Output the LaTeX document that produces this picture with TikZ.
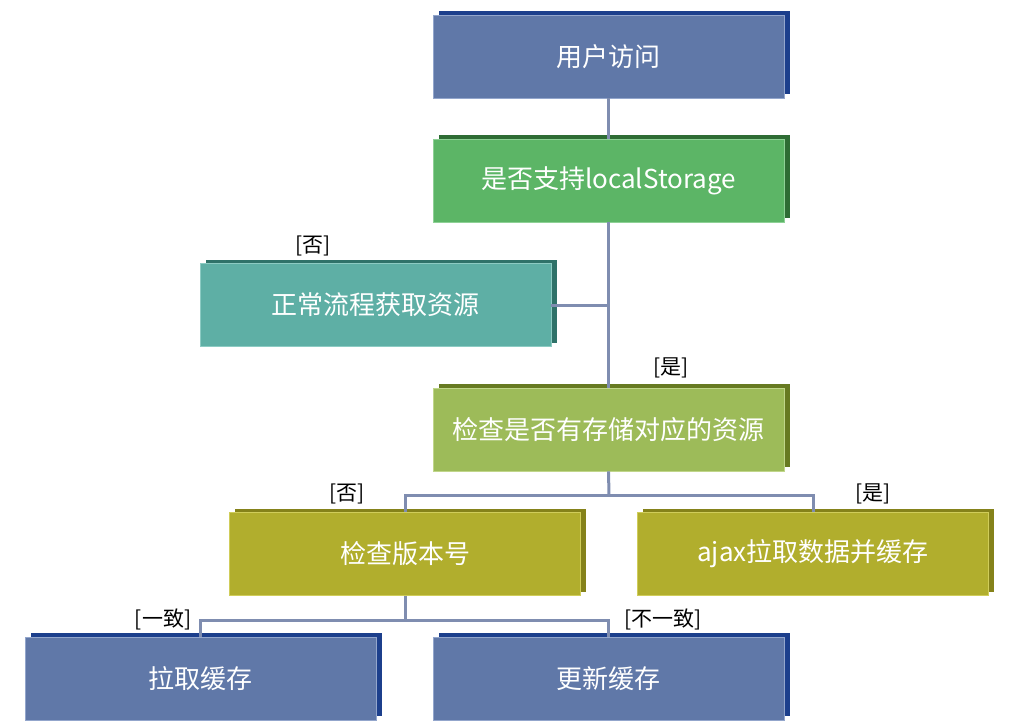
\documentclass[tikz,border=0pt]{standalone}
\usepackage{fontspec}
\setmainfont{Noto Sans CJK SC}
\usetikzlibrary{shadows}
\definecolor{blueF}{HTML}{6078A8}
\definecolor{blueB}{HTML}{1C3F8C}
\definecolor{blueL}{HTML}{93A6CC}
\definecolor{greenF}{HTML}{5CB566}
\definecolor{greenB}{HTML}{2E6C34}
\definecolor{greenL}{HTML}{8ED196}
\definecolor{tealF}{HTML}{5EAFA5}
\definecolor{tealB}{HTML}{2F7269}
\definecolor{tealL}{HTML}{8CCBC3}
\definecolor{limeF}{HTML}{9DBB59}
\definecolor{limeB}{HTML}{677A22}
\definecolor{limeL}{HTML}{C0D68A}
\definecolor{oliveF}{HTML}{B1AE2D}
\definecolor{oliveB}{HTML}{85821A}
\definecolor{oliveL}{HTML}{D0CD5A}
\definecolor{lineC}{HTML}{7F8DB0}
\tikzset{
  box/.style n args={3}{rectangle, minimum width=351pt, minimum height=83pt,
    fill=#1, draw=#3, line width=0.8pt, text=white, font=\fontsize{26}{29}\selectfont,
    general shadow={shadow xshift=5.5pt, shadow yshift=4pt, fill=#2, draw=none, opacity=1}},
  conn/.style={draw=lineC, line width=3pt},
  lbl/.style={text=black, font=\fontsize{21}{23}\selectfont, inner sep=0pt}
}
\begin{document}
\begin{tikzpicture}[x=1pt, y=-1pt]
\useasboundingbox (0,0) rectangle (1009,726);
\coordinate (j1) at (609,305);
\coordinate (j2) at (609,495);
\coordinate (j3) at (405,620);
\node[box={blueF}{blueB}{blueL}] (b1) at (608.5,56.5) {用户访问};
\node[box={greenF}{greenB}{greenL}] (b2) at (608.5,180.5) {是否支持localStorage};
\node[box={tealF}{tealB}{tealL}] (b3) at (375.5,305) {正常流程获取资源};
\node[box={limeF}{limeB}{limeL}] (b4) at (608.5,429.5) {检查是否有存储对应的资源};
\node[box={oliveF}{oliveB}{oliveL}] (b5) at (405,554) {检查版本号};
\node[box={oliveF}{oliveB}{oliveL}] (b6) at (813,554) {ajax拉取数据并缓存};
\node[box={blueF}{blueB}{blueL}] (b7) at (200.5,678.5) {拉取缓存};
\node[box={blueF}{blueB}{blueL}] (b8) at (608.5,678.5) {更新缓存};
\draw[conn] (b1.south) -- (b2.north);
\draw[conn] (b2.south) -- (b4.north);
\draw[conn] (b3.east) -- (j1);
\draw[conn] (b4.south) -- (j2);
\draw[conn] (j2) -| (b5.north);
\draw[conn] (j2) -| (b6.north);
\draw[conn] (b5.south) -- (j3);
\draw[conn] (j3) -| (b7.north);
\draw[conn] (j3) -| (b8.north);
\node[lbl] (l1) at (313,246) {[否]};
\node[lbl] (l2) at (671,368) {[是]};
\node[lbl] (l3) at (347,494) {[否]};
\node[lbl] (l4) at (873,494) {[是]};
\node[lbl] (l5) at (163,619) {[一致]};
\node[lbl] (l6) at (663,619) {[不一致]};
\end{tikzpicture}
\end{document}
